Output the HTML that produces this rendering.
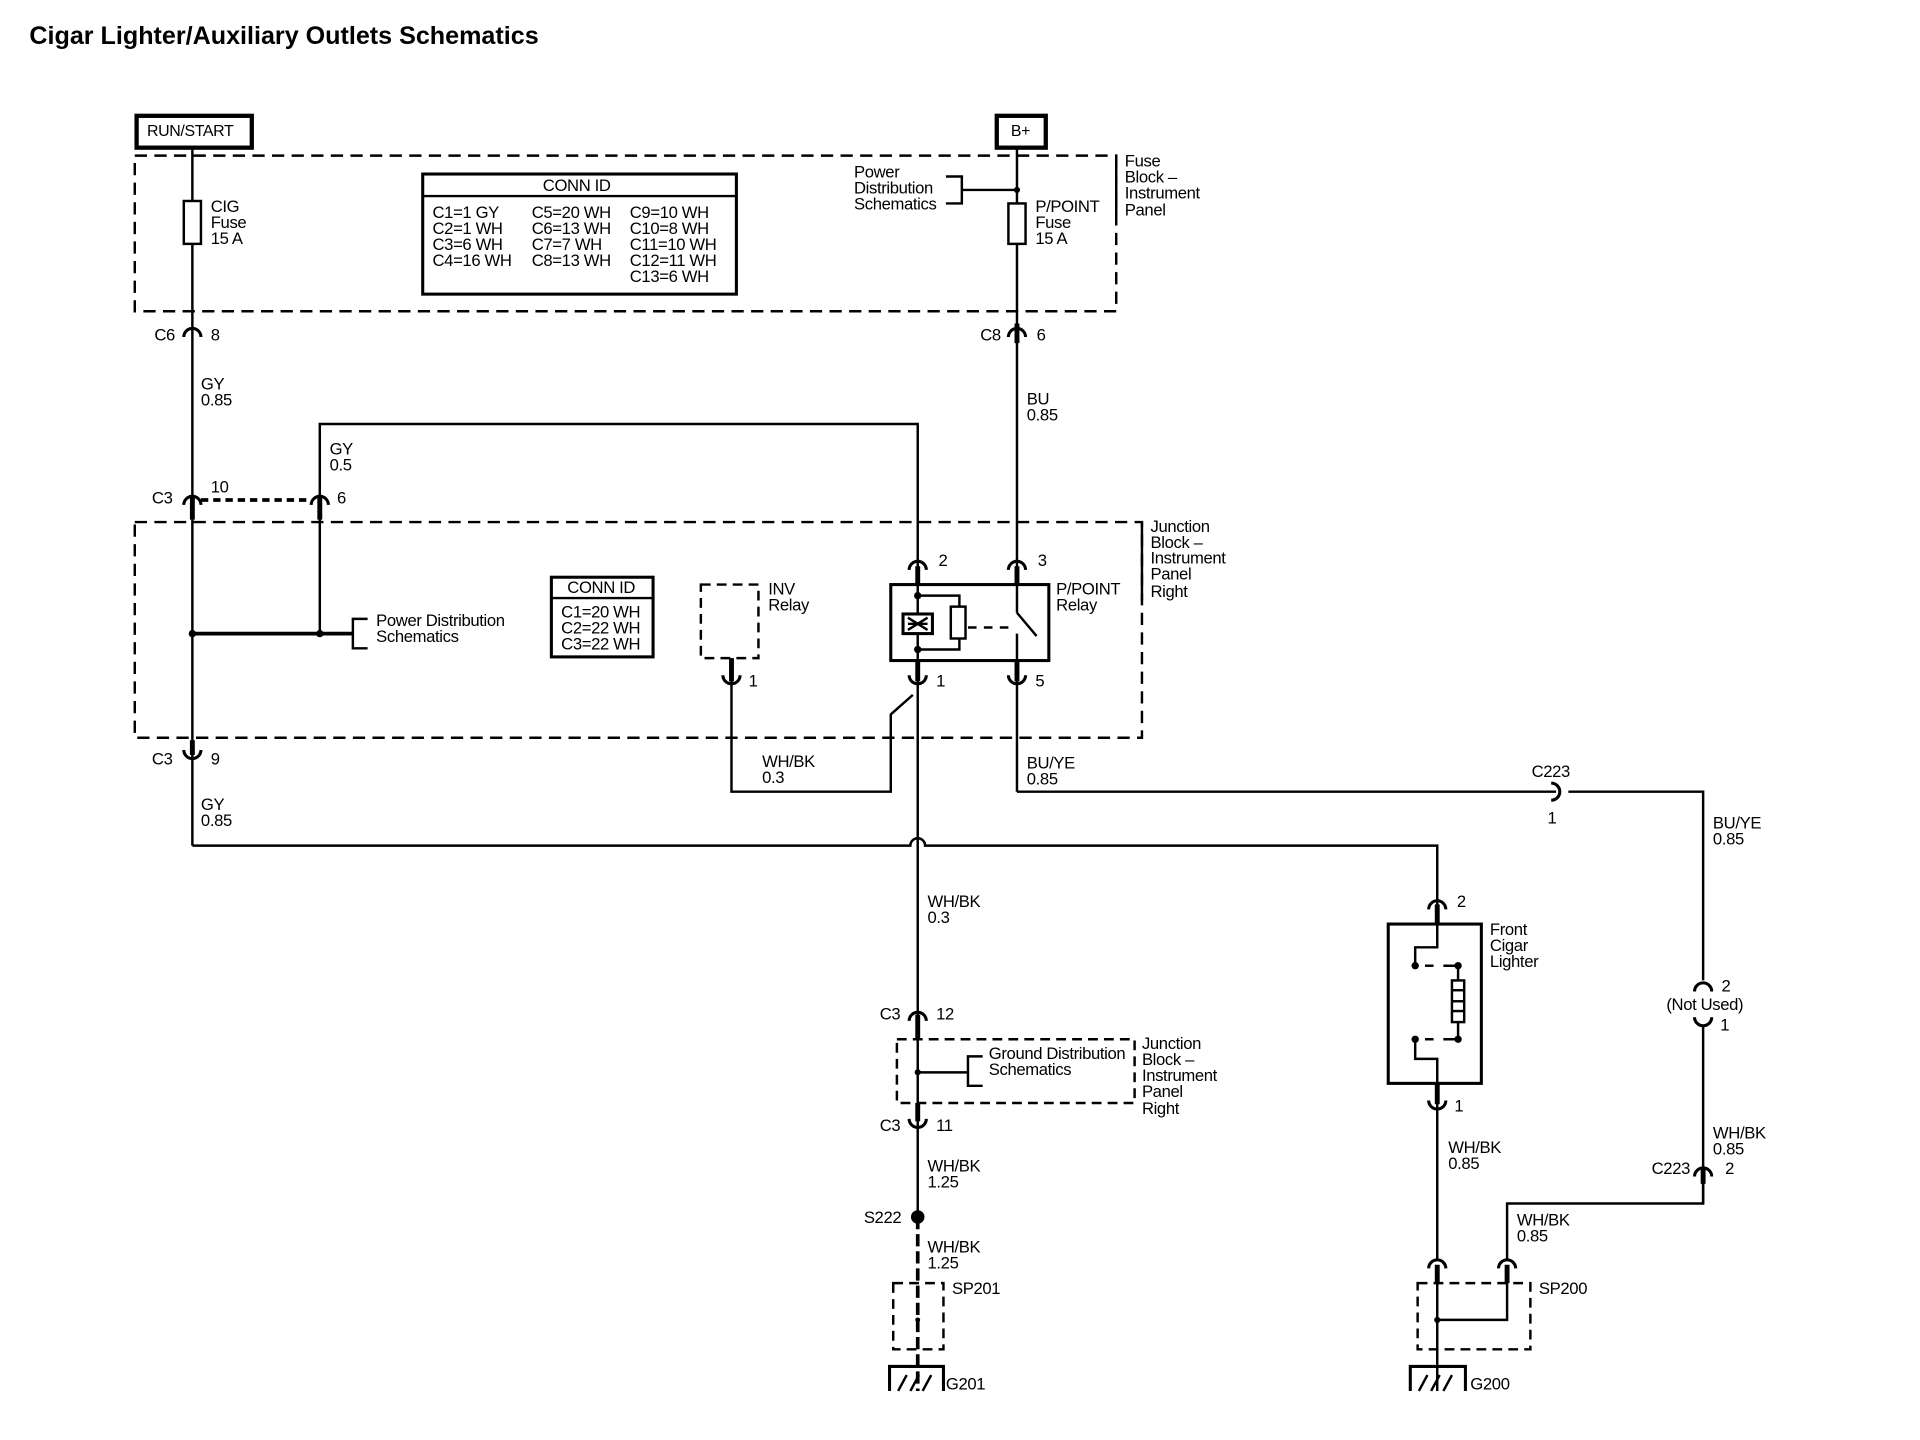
<!DOCTYPE html>
<html><head><meta charset="utf-8"><style>
html,body{margin:0;padding:0;background:#fff;}
svg{display:block;}
text{font-family:"Liberation Sans",sans-serif;font-size:13.6px;fill:#000;letter-spacing:-0.3px;}
</style></head><body>
<svg width="1920" height="1440" viewBox="0 0 1567 1175" preserveAspectRatio="none" xmlns="http://www.w3.org/2000/svg">
<text x="24" y="36" style="font-size:20.5px;font-weight:bold;letter-spacing:0">Cigar Lighter/Auxiliary Outlets Schematics</text>

<g fill="none" stroke="#000">
<rect x="111.5" y="94.5" width="94" height="26" stroke-width="3.5"/>
<rect x="813.5" y="94.5" width="40" height="26" stroke-width="3.5"/>
<rect x="110" y="127" width="801" height="127" stroke-width="2" stroke-dasharray="10,6"/>
<line x1="911" y1="127" x2="911" y2="178" stroke-width="2"/>
<rect x="110" y="426" width="822" height="176" stroke-width="2" stroke-dasharray="10,6"/>
<line x1="932" y1="426" x2="932" y2="490" stroke-width="2"/>
<rect x="345" y="142" width="256" height="98" stroke-width="2.5"/>
<line x1="345" y1="160" x2="601" y2="160" stroke-width="2"/>
<rect x="450" y="471" width="83" height="65" stroke-width="2.5"/>
<line x1="450" y1="488" x2="533" y2="488" stroke-width="2"/>

<g stroke-width="2">
<line x1="157" y1="121" x2="157" y2="690"/>
<rect x="150" y="164" width="14" height="35" fill="#fff"/>
<line x1="830" y1="121" x2="830" y2="458"/>
<rect x="823" y="166" width="14" height="33" fill="#fff"/>
<line x1="785" y1="155" x2="830" y2="155"/>
<polyline points="772,144 785,144 785,166 772,166"/>
<polyline points="261,410 261,346 749,346 749,458"/>
<line x1="164" y1="408" x2="254" y2="408" stroke-width="3" stroke-dasharray="6,4"/>
<line x1="261" y1="410" x2="261" y2="517"/>
<line x1="157" y1="517" x2="288" y2="517" stroke-width="3"/>
<polyline points="300,505 288,505 288,529 300,529"/>
<rect x="572" y="477" width="47" height="60" stroke-dasharray="8,5"/>
<polyline points="597,537 597,646 727,646 727,583 745,567"/>
<rect x="727" y="477" width="129" height="62" stroke-width="2.5"/>
<line x1="749" y1="458" x2="749" y2="1000"/>
<line x1="830" y1="458" x2="830" y2="500"/>
<line x1="830" y1="517" x2="830" y2="646"/>
<line x1="830" y1="500" x2="846" y2="519"/>
<polyline points="749,486 783,486 783,495"/>
<polyline points="783,521 783,530 749,530"/>
<rect x="776" y="495" width="12" height="26" fill="#fff"/>
<line x1="790" y1="512" x2="826" y2="512" stroke-dasharray="7,6"/>
<rect x="737" y="501" width="24" height="16" fill="#fff" stroke-width="2.5"/>
<path d="M741,504 L757,514 M741,514 L757,504"/>
<line x1="741" y1="509" x2="757" y2="509"/>
<polyline points="830,646 1270,646"/>
<polyline points="1280,646 1390,646 1390,800"/>
<line x1="1390" y1="837" x2="1390" y2="982"/>
<polyline points="1390,960 1390,982 1230,982 1230,1028"/>
<path d="M157,690 L743,690 A6,6 0 0 1 755,690 L1173,690 L1173,735"/>
<rect x="1133" y="754" width="76" height="130" stroke-width="2.5"/>
<line x1="1173" y1="735" x2="1173" y2="754"/>
<polyline points="1173,754 1173,773 1155,773 1155,788"/>
<line x1="1163" y1="788" x2="1170" y2="788"/>
<polyline points="1178,788 1190,788 1190,800"/>
<rect x="1185" y="800" width="10" height="34" fill="#fff"/>
<line x1="1185" y1="808" x2="1195" y2="808"/><line x1="1185" y1="817" x2="1195" y2="817"/><line x1="1185" y1="825" x2="1195" y2="825"/>
<polyline points="1190,834 1190,848 1178,848"/>
<line x1="1163" y1="848" x2="1170" y2="848"/>
<polyline points="1155,848 1155,864 1173,864 1173,905"/>
<line x1="1173" y1="905" x2="1173" y2="1028"/>
<rect x="732" y="848" width="194" height="52" stroke-dasharray="8,5"/>
<line x1="749" y1="875" x2="790" y2="875"/>
<polyline points="802,862 790,862 790,886 802,886"/>
<line x1="749" y1="993" x2="749" y2="1135" stroke-dasharray="10,4" stroke-width="3"/>
<rect x="729" y="1047" width="41" height="54" stroke-dasharray="8,5"/>
<rect x="1157" y="1047" width="92" height="54" stroke-dasharray="8,5"/>
<line x1="1173" y1="1035" x2="1173" y2="1135"/>
<polyline points="1230,1035 1230,1077 1173,1077"/>
<polyline points="726,1135 726,1115 770,1115 770,1135" stroke-width="2.5"/>
<path d="M733,1135 L740,1122 M743,1135 L750,1122 M753,1135 L760,1122"/>
<polyline points="1151,1135 1151,1115 1196,1115 1196,1135" stroke-width="2.5"/>
<path d="M1158,1135 L1165,1122 M1168,1135 L1175,1122 M1178,1135 L1185,1122"/>
</g>

<g stroke-width="4">
<line x1="830" y1="264" x2="830" y2="280"/>
<line x1="261" y1="404" x2="261" y2="424"/>
<line x1="157" y1="404" x2="157" y2="424"/>
<line x1="157" y1="604" x2="157" y2="616"/>
<line x1="749" y1="462" x2="749" y2="477"/>
<line x1="830" y1="462" x2="830" y2="477"/>
<line x1="749" y1="539" x2="749" y2="556"/>
<line x1="830" y1="539" x2="830" y2="556"/>
<line x1="597" y1="537" x2="597" y2="556"/>
<line x1="1173" y1="738" x2="1173" y2="754"/>
<line x1="1173" y1="884" x2="1173" y2="901"/>
<line x1="1390" y1="952" x2="1390" y2="966"/>
<line x1="749" y1="828" x2="749" y2="848"/>
<line x1="749" y1="900" x2="749" y2="915"/>
<line x1="1173" y1="1032" x2="1173" y2="1047"/>
<line x1="1230" y1="1032" x2="1230" y2="1047"/>
</g>

<g stroke-width="2.5">
<path d="M150,275 A7,7 0 0 1 164,275"/>
<path d="M823,275 A7,7 0 0 1 837,275"/>
<path d="M150,412 A7,7 0 0 1 164,412"/>
<path d="M254,412 A7,7 0 0 1 268,412"/>
<path d="M742,465 A7,7 0 0 1 756,465"/>
<path d="M823,465 A7,7 0 0 1 837,465"/>
<path d="M742,551 A7,7 0 0 0 756,551"/>
<path d="M823,551 A7,7 0 0 0 837,551"/>
<path d="M590,551 A7,7 0 0 0 604,551"/>
<path d="M150,612 A7,7 0 0 0 164,612"/>
<path d="M1166,742 A7,7 0 0 1 1180,742"/>
<path d="M1166,898 A7,7 0 0 0 1180,898"/>
<path d="M1383,809 A7,7 0 0 1 1397,809"/>
<path d="M1383,830 A7,7 0 0 0 1397,830"/>
<path d="M1383,960 A7,7 0 0 1 1397,960"/>
<path d="M1266,639 A7,7 0 0 1 1266,653"/>
<path d="M742,833 A7,7 0 0 1 756,833"/>
<path d="M742,913 A7,7 0 0 0 756,913"/>
<path d="M1166,1035 A7,7 0 0 1 1180,1035"/>
<path d="M1223,1035 A7,7 0 0 1 1237,1035"/>
</g>
</g>
<g fill="#000">
<circle cx="830" cy="155" r="2.5"/><circle cx="157" cy="517" r="3"/><circle cx="261" cy="517" r="3"/>
<circle cx="749" cy="486" r="3"/><circle cx="749" cy="530" r="3"/>
<circle cx="1155" cy="788" r="3"/><circle cx="1190" cy="788" r="3"/><circle cx="1155" cy="848" r="3"/><circle cx="1190" cy="848" r="3"/>
<circle cx="749" cy="875" r="2.5"/><circle cx="749" cy="993" r="5.5"/><circle cx="1173" cy="1077" r="2.5"/><circle cx="749" cy="1077" r="2"/>
</g>

<text x="120" y="111" style="font-size:13px">RUN/START</text>
<text x="825" y="111" style="font-size:13px">B+</text>
<text x="172" y="173">CIG</text><text x="172" y="186">Fuse</text><text x="172" y="199">15 A</text>
<text x="845" y="173">P/POINT</text><text x="845" y="186">Fuse</text><text x="845" y="199">15 A</text>
<text x="697" y="145">Power</text><text x="697" y="158">Distribution</text><text x="697" y="171">Schematics</text>
<text x="918" y="136">Fuse</text><text x="918" y="149">Block –</text><text x="918" y="162">Instrument</text><text x="918" y="176">Panel</text>
<text x="443" y="156">CONN ID</text>
<text x="353" y="178">C1=1 GY</text><text x="353" y="191">C2=1 WH</text><text x="353" y="204">C3=6 WH</text><text x="353" y="217">C4=16 WH</text>
<text x="434" y="178">C5=20 WH</text><text x="434" y="191">C6=13 WH</text><text x="434" y="204">C7=7 WH</text><text x="434" y="217">C8=13 WH</text>
<text x="514" y="178">C9=10 WH</text><text x="514" y="191">C10=8 WH</text><text x="514" y="204">C11=10 WH</text><text x="514" y="217">C12=11 WH</text><text x="514" y="230">C13=6 WH</text>
<text x="126" y="278">C6</text><text x="172" y="278">8</text>
<text x="800" y="278">C8</text><text x="846" y="278">6</text>
<text x="164" y="318">GY</text><text x="164" y="331">0.85</text>
<text x="838" y="330">BU</text><text x="838" y="343">0.85</text>
<text x="269" y="371">GY</text><text x="269" y="384">0.5</text>
<text x="124" y="411">C3</text><text x="172" y="402">10</text><text x="275" y="411">6</text>
<text x="939" y="434">Junction</text><text x="939" y="447">Block –</text><text x="939" y="460">Instrument</text><text x="939" y="473">Panel</text><text x="939" y="487">Right</text>
<text x="307" y="511">Power Distribution</text><text x="307" y="524">Schematics</text>
<text x="463" y="484">CONN ID</text>
<text x="458" y="504">C1=20 WH</text><text x="458" y="517">C2=22 WH</text><text x="458" y="530">C3=22 WH</text>
<text x="627" y="485">INV</text><text x="627" y="498">Relay</text>
<text x="862" y="485">P/POINT</text><text x="862" y="498">Relay</text>
<text x="766" y="462">2</text><text x="847" y="462">3</text>
<text x="764" y="560">1</text><text x="845" y="560">5</text><text x="611" y="560">1</text>
<text x="124" y="624">C3</text><text x="172" y="624">9</text>
<text x="622" y="626">WH/BK</text><text x="622" y="639">0.3</text>
<text x="838" y="627">BU/YE</text><text x="838" y="640">0.85</text>
<text x="1250" y="634">C223</text><text x="1263" y="672">1</text>
<text x="164" y="661">GY</text><text x="164" y="674">0.85</text>
<text x="1398" y="676">BU/YE</text><text x="1398" y="689">0.85</text>
<text x="757" y="740">WH/BK</text><text x="757" y="753">0.3</text>
<text x="1189" y="740">2</text>
<text x="1216" y="763">Front</text><text x="1216" y="776">Cigar</text><text x="1216" y="789">Lighter</text>
<text x="1405" y="809">2</text><text x="1360" y="824">(Not Used)</text><text x="1404" y="841">1</text>
<text x="718" y="832">C3</text><text x="764" y="832">12</text>
<text x="807" y="864">Ground Distribution</text><text x="807" y="877">Schematics</text>
<text x="932" y="856">Junction</text><text x="932" y="869">Block –</text><text x="932" y="882">Instrument</text><text x="932" y="895">Panel</text><text x="932" y="909">Right</text>
<text x="1187" y="907">1</text>
<text x="718" y="923">C3</text><text x="764" y="923">11</text>
<text x="1398" y="929">WH/BK</text><text x="1398" y="942">0.85</text>
<text x="1182" y="941">WH/BK</text><text x="1182" y="954">0.85</text>
<text x="757" y="956">WH/BK</text><text x="757" y="969">1.25</text>
<text x="1348" y="958">C223</text><text x="1408" y="958">2</text>
<text x="705" y="998">S222</text>
<text x="1238" y="1000">WH/BK</text><text x="1238" y="1013">0.85</text>
<text x="757" y="1022">WH/BK</text><text x="757" y="1035">1.25</text>
<text x="777" y="1056">SP201</text><text x="1256" y="1056">SP200</text>
<text x="772" y="1134">G201</text><text x="1200" y="1134">G200</text>
</svg>
</body></html>
